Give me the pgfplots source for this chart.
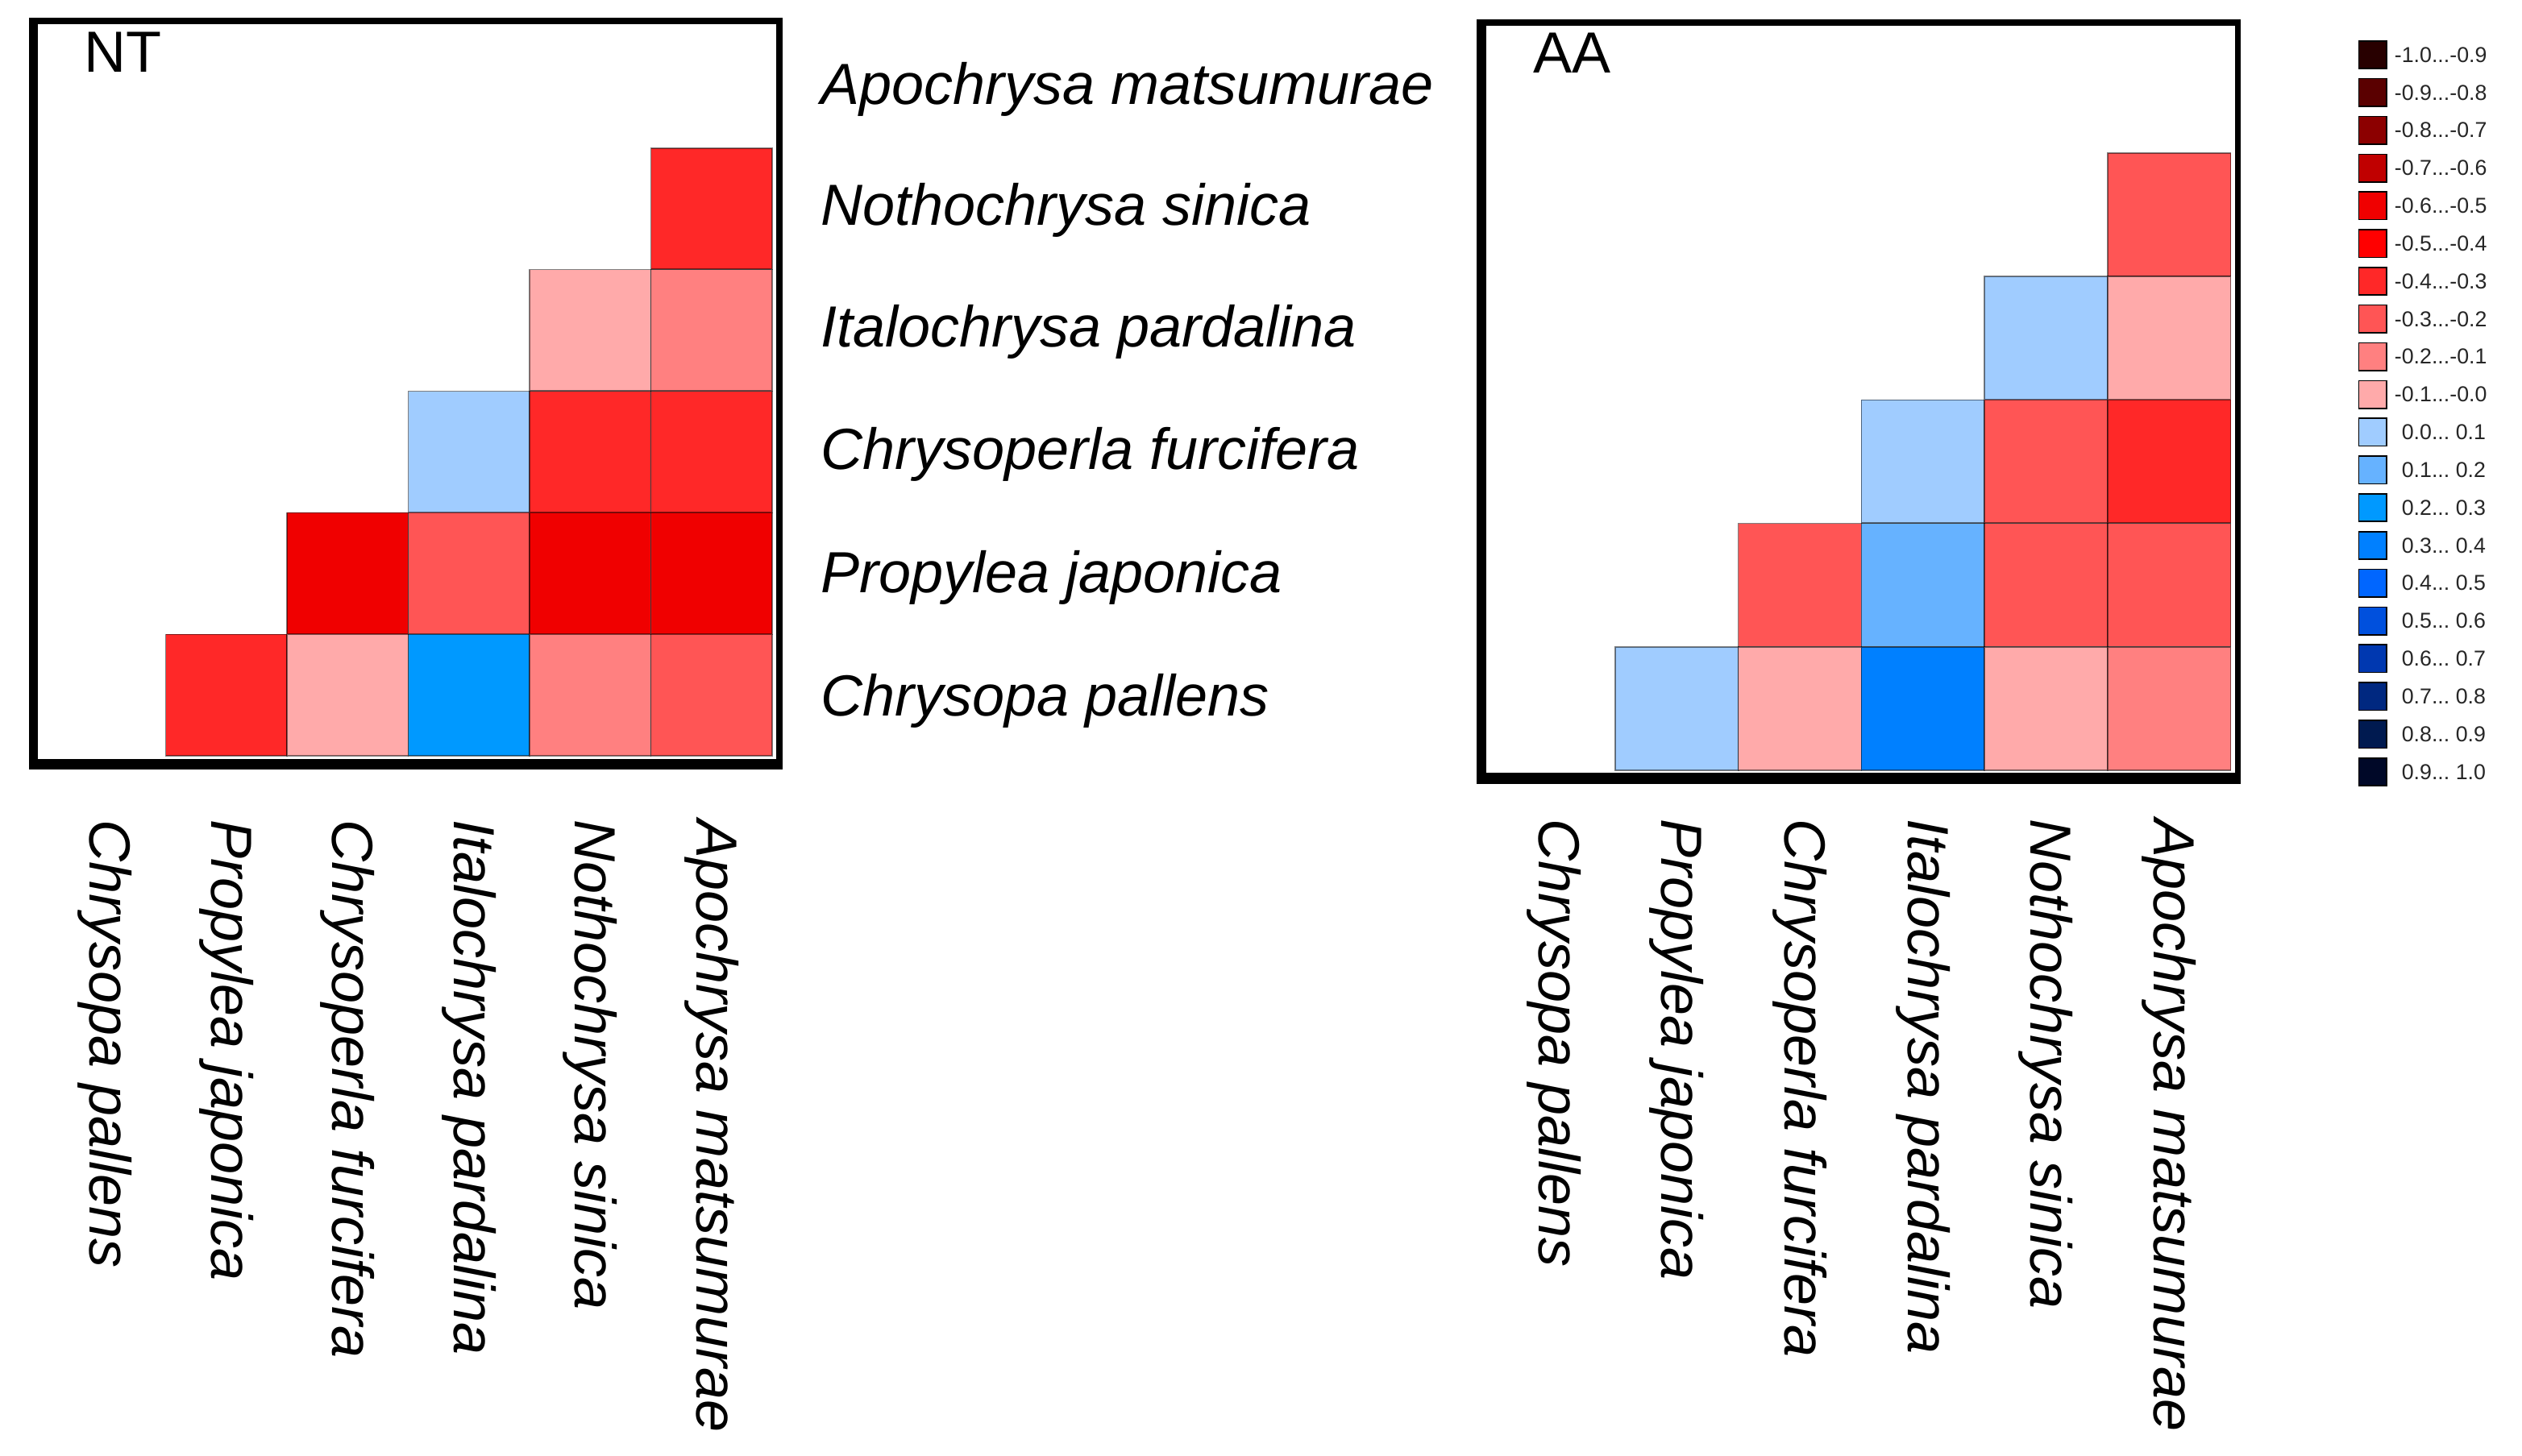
\documentclass[border=0pt]{standalone}
\usepackage{pgfplots}
\pgfplotsset{compat=1.18}
\usepackage{fontspec}
\setmainfont{Liberation Sans}
\newcommand\lblfont{\fontsize{18}{20}\selectfont\itshape}
\newcommand\leg[1]{\mbox{#1}}
\pgfplotsset{
  colormap={corr}{rgb255=(40,0,0) rgb255=(90,0,0) rgb255=(140,0,0) rgb255=(192,0,0)
    rgb255=(240,0,0) rgb255=(255,0,0) rgb255=(255,40,40) rgb255=(255,85,85)
    rgb255=(255,128,128) rgb255=(255,170,170) rgb255=(160,204,255) rgb255=(102,178,255)
    rgb255=(0,153,255) rgb255=(0,128,255) rgb255=(0,102,255) rgb255=(0,80,221)
    rgb255=(0,56,176) rgb255=(0,40,128) rgb255=(0,26,80) rgb255=(0,8,40)},
  heat/.style={scale only axis, anchor=south west,
    colormap name=corr, colormap access=piecewise constant,
    point meta min=-1, point meta max=1,
    xtick={0,...,5}, major tick length=0pt,
    xticklabels={Chrysopa pallens, Propylea japonica, Chrysoperla furcifera, Italochrysa pardalina, Nothochrysa sinica, Apochrysa matsumurae},
    xticklabel style={rotate=-90, anchor=west, inner sep=0pt, font=\lblfont},
    axis line style={line width=1.8pt}, axis on top},
  cells/.style={scatter, only marks, mark=square*, point meta=explicit,
    scatter/use mapped color={draw=black, draw opacity=0.5, fill=mapped color},
    every mark/.append style={line width=0.7pt}},
}
\begin{document}
\begin{tikzpicture}
\useasboundingbox (0,0) rectangle (782.25pt,451.75pt);
% ---------------- NT ----------------
\begin{axis}[heat, at={(9.875pt,214pt)}, width=231.875pt, height=231.25pt,
  xmin=-0.603, xmax=5.560, ymin=-0.586, ymax=5.544,
  xticklabel shift=16.5pt,
  yticklabel pos=right,
  ytick={4.855,3.867,2.860,1.853,0.845,-0.172},
  yticklabels={Apochrysa matsumurae, Nothochrysa sinica, Italochrysa pardalina, Chrysoperla furcifera, Propylea japonica, Chrysopa pallens},
  yticklabel style={anchor=base west, inner sep=0pt, xshift=12.75pt, font=\lblfont}]
\addplot[cells, mark size=18.8pt] table[meta=v] {
x y v
5 4 -0.35
4 3 -0.05
5 3 -0.15
3 2 0.05
4 2 -0.35
5 2 -0.35
2 1 -0.55
3 1 -0.25
4 1 -0.55
5 1 -0.55
1 0 -0.35
2 0 -0.05
3 0 0.25
4 0 -0.15
5 0 -0.25
};
\draw[line width=3.75pt, line cap=rect] (rel axis cs:0,1) -- (rel axis cs:0,0);
\draw[line width=4.5pt, line cap=rect] (rel axis cs:0,0) -- (rel axis cs:1,0);
\node[anchor=base west, inner sep=0pt, font=\fontsize{18}{20}\selectfont] at (axis cs:-0.174,5.120) {NT};
\end{axis}
% ---------------- AA ----------------
\begin{axis}[heat, at={(459pt,209.5pt)}, width=235.125pt, height=235.25pt,
  xmin=-0.600, xmax=5.559, ymin=-0.585, ymax=5.554,
  xticklabel shift=11.75pt, ytick=\empty]
\addplot[cells, mark size=19.1pt] table[meta=v] {
x y v
5 4 -0.25
4 3 0.05
5 3 -0.05
3 2 0.05
4 2 -0.25
5 2 -0.35
2 1 -0.25
3 1 0.15
4 1 -0.25
5 1 -0.25
1 0 0.05
2 0 -0.05
3 0 0.35
4 0 -0.05
5 0 -0.15
};
\draw[line width=3.75pt, line cap=rect] (rel axis cs:0,1) -- (rel axis cs:0,0);
\draw[line width=4.75pt, line cap=rect] (rel axis cs:0,0) -- (rel axis cs:1,0);
\node[anchor=base west, inner sep=0pt, font=\fontsize{18}{20}\selectfont] at (axis cs:-0.168,5.149) {AA};
\end{axis}
% ---------------- legend ----------------
\begin{axis}[scale only axis, anchor=south west, at={(731.5pt,206.4pt)},
  width=8.75pt, height=234.2pt, xmin=0, xmax=1, ymin=-0.5, ymax=19.5, y dir=reverse,
  colormap name=corr, colormap access=piecewise constant,
  point meta min=-1, point meta max=1,
  axis line style={draw=none}, xtick=\empty, ytick={0,...,19}, major tick length=0pt,
  yticklabel pos=right,
  yticklabel style={anchor=west, inner sep=0pt, xshift=2.25pt, font=\fontsize{6.7}{7}\selectfont, text=black!85},
  yticklabels={\leg{-1.0...-0.9}, \leg{-0.9...-0.8}, \leg{-0.8...-0.7}, \leg{-0.7...-0.6}, \leg{-0.6...-0.5}, \leg{-0.5...-0.4}, \leg{-0.4...-0.3}, \leg{-0.3...-0.2}, \leg{-0.2...-0.1}, \leg{-0.1...-0.0}, \leg{\hphantom{-}0.0...\ 0.1}, \leg{\hphantom{-}0.1...\ 0.2}, \leg{\hphantom{-}0.2...\ 0.3}, \leg{\hphantom{-}0.3...\ 0.4}, \leg{\hphantom{-}0.4...\ 0.5}, \leg{\hphantom{-}0.5...\ 0.6}, \leg{\hphantom{-}0.6...\ 0.7}, \leg{\hphantom{-}0.7...\ 0.8}, \leg{\hphantom{-}0.8...\ 0.9}, \leg{\hphantom{-}0.9...\ 1.0}}]
\addplot[scatter, only marks, mark=square*, mark size=4.3pt, point meta=explicit,
  scatter/use mapped color={draw=none, fill=mapped color}] table[meta=v] {
x y v
0.5 0 -0.95
0.5 1 -0.85
0.5 2 -0.75
0.5 3 -0.65
0.5 4 -0.55
0.5 5 -0.45
0.5 6 -0.35
0.5 7 -0.25
0.5 8 -0.15
0.5 9 -0.05
0.5 10 0.05
0.5 11 0.15
0.5 12 0.25
0.5 13 0.35
0.5 14 0.45
0.5 15 0.55
0.5 16 0.65
0.5 17 0.75
0.5 18 0.85
0.5 19 0.95
};
\end{axis}
\end{tikzpicture}
\end{document}
